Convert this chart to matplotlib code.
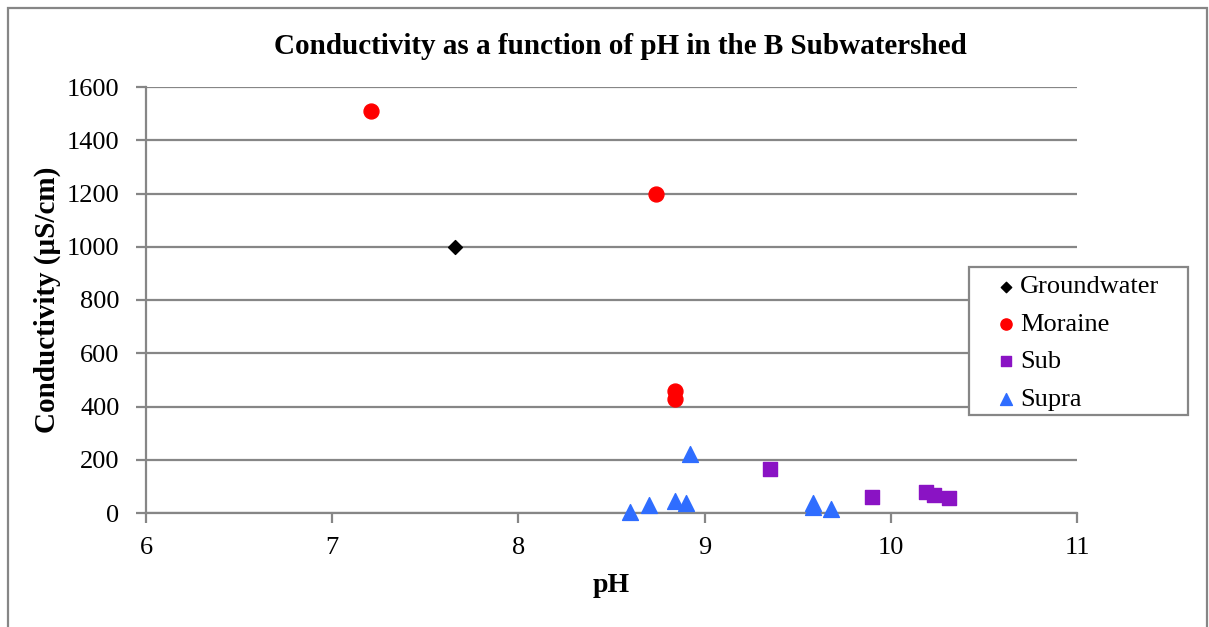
import matplotlib.pyplot as plt
from matplotlib.patches import Rectangle

# values
gw_ph = [7.66]
gw_cond = [1000]

mor_ph = [7.21, 8.74, 8.84, 8.84]
mor_cond = [1510, 1200, 458, 428]

sub_ph = [9.35, 9.90, 10.19, 10.23, 10.31]
sub_cond = [165, 59, 79, 68, 57]

supra_ph = [8.60, 8.70, 8.84, 8.90, 8.92, 9.58, 9.58, 9.68]
supra_cond = [5, 29, 46, 36, 222, 36, 21, 15]

grid_col = '#868686'

plt.rcParams['font.family'] = ['Liberation Serif', 'DejaVu Serif']

W, H = 1209, 627
fig = plt.figure(figsize=(W/100, H/100), dpi=100)
ax = fig.add_axes([146/W, 1 - 513/H, (1077-146)/W, (513-87)/H])

ax.scatter(gw_ph, gw_cond, marker='D', s=50, color='black', label='Groundwater', zorder=3, clip_on=False)
ax.scatter(mor_ph, mor_cond, marker='o', s=115, color='#ff0000', label='Moraine', zorder=3, clip_on=False)
ax.scatter(sub_ph, sub_cond, marker='s', s=110, color='#8a13c4', label='Sub', zorder=3, clip_on=False)
ax.scatter(supra_ph, supra_cond, marker='^', s=130, color='#2f6dff', label='Supra', zorder=3, clip_on=False)

ax.set_xlim(6, 11)
ax.set_ylim(0, 1600)
ax.set_xticks([6, 7, 8, 9, 10, 11])
ax.set_yticks(range(0, 1601, 200))
ax.grid(axis='y', color=grid_col, linewidth=1.6)
ax.set_axisbelow(True)
for s in ['top', 'right']:
    ax.spines[s].set_visible(False)
for s in ['left', 'bottom']:
    ax.spines[s].set_color(grid_col)
    ax.spines[s].set_linewidth(1.6)
ax.tick_params(axis='both', direction='out', length=7, width=1.6, color=grid_col,
               labelsize=19)
ax.tick_params(axis='x', pad=10)
ax.tick_params(axis='y', pad=12)

ax.set_title('Conductivity as a function of pH in the B Subwatershed',
             fontsize=21, fontweight='bold', pad=24, x=0.51)
ax.set_xlabel('pH', fontsize=20, fontweight='bold', labelpad=10)
ax.set_ylabel('Conductivity (µS/cm)', fontsize=21, fontweight='bold', labelpad=4)

# legend box drawn by hand so the padding can differ per side
x0, x1 = (969-146)/931, (1188-146)/931
y0, y1 = (513-415)/426, (513-267)/426
ax.add_patch(Rectangle((x0, y0), x1 - x0, y1 - y0, transform=ax.transAxes,
                       facecolor='white', edgecolor=grid_col, linewidth=1.6,
                       clip_on=False, zorder=4))
leg = ax.legend(loc='upper left', bbox_to_anchor=((986-146)/931, (513-275)/426),
                fontsize=19, frameon=False, borderpad=0, borderaxespad=0,
                handletextpad=-0.2, labelspacing=0.53, handlelength=1.5,
                markerscale=0.75)
leg.set_zorder(5)

# outer chart border
fig.patches.append(Rectangle((8/W, -0.05), (1207-8)/W, 1 - 8/H + 0.05,
                             transform=fig.transFigure, fill=False,
                             edgecolor=grid_col, linewidth=1.6))

fig.savefig('out.png', dpi=100)
